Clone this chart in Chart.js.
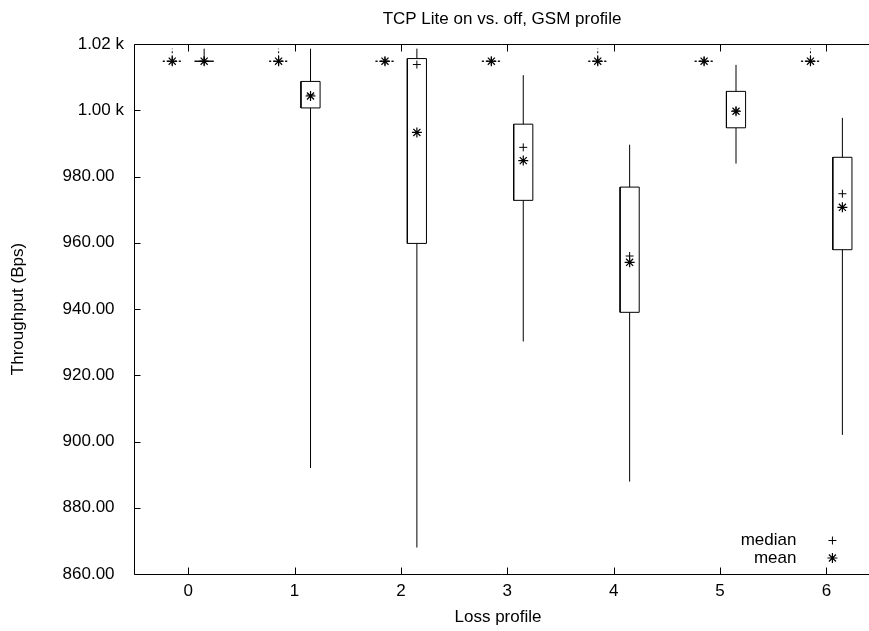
<!DOCTYPE html>
<html>
<head>
<meta charset="utf-8">
<script src="https://cdn.jsdelivr.net/npm/chart.js@4.4.1/dist/chart.umd.min.js"></script>
<style>
  html, body { margin: 0; padding: 0; background: #fff; overflow: hidden; width: 869px; height: 631px; }
  #wrap { width: 869px; height: 631px; overflow: hidden; }
  canvas { display: block; }
</style>
</head>
<body>
<div id="wrap"><canvas id="c" width="869" height="631" style="width:869px;height:631px"></canvas></div>
<script>
// ---- data ----
const categories = [0, 1, 2, 3, 4, 5, 6];
const xTickLabels = ['0', '1', '2', '3', '4', '5', '6'];
const yTickValues = [860, 880, 900, 920, 940, 960, 980, 1000, 1020];
const yTickLabels = ['860.00  ', '880.00  ', '900.00  ', '920.00  ', '940.00  ', '960.00  ', '980.00  ', '1.00 k', '1.02 k'];

// TCP Lite off (left of each category)
const offMin    = [1014.8, 1014.8, 1014.8, 1014.8, 1014.8, 1014.8, 1014.8];
const offQ1     = [1014.8, 1014.8, 1014.8, 1014.8, 1014.8, 1014.8, 1014.8];
const offMedian = [1014.8, 1014.8, 1014.8, 1014.8, 1014.8, 1014.8, 1014.8];
const offQ3     = [1014.8, 1014.8, 1014.8, 1014.8, 1014.8, 1014.8, 1014.8];
const offMax    = [1018.6, 1018.6, 1014.8, 1014.8, 1018.6, 1014.8, 1018.6];
const offMean   = [1014.8, 1014.8, 1014.8, 1014.8, 1014.8, 1014.8, 1014.8];

// TCP Lite on (right of each category)
const onMin    = [1014.8, 892.0, 868.0, 930.2, 887.9, 983.9, 902.0];
const onQ1     = [1014.8, 1000.7, 959.8, 972.8, 939.0, 994.7, 957.9];
const onMedian = [1014.8, 1004.6, 1013.8, 988.8, 956.0, 999.8, 974.8];
const onQ3     = [1014.8, 1008.7, 1015.6, 995.8, 976.8, 1005.7, 985.8];
const onMax    = [1018.6, 1018.6, 1018.6, 1010.6, 989.6, 1013.7, 997.7];
const onMean   = [1014.8, 1004.3, 993.3, 984.8, 954.1, 999.7, 970.7];

// ---- presentation constants ----
const OFF_SHIFT = -0.15, ON_SHIFT = 0.15, BOX_HALF = 0.09;
const FONT = "'Liberation Sans', Arial, Helvetica, sans-serif";

function boxOutline(q1, q3, shift) {
  const pts = [];
  categories.forEach((c, i) => {
    const x = c + shift;
    pts.push({x: x - BOX_HALF, y: q1[i]}, {x: x + BOX_HALF, y: q1[i]},
             {x: x + BOX_HALF, y: q3[i]}, {x: x - BOX_HALF, y: q3[i]},
             {x: x - BOX_HALF, y: q1[i]}, {x: x, y: null});
  });
  return pts;
}
function whiskers(mn, q1, q3, mx, shift) {
  const pts = [];
  categories.forEach((c, i) => {
    const x = c + shift;
    pts.push({x: x, y: mn[i]}, {x: x, y: q1[i]}, {x: x, y: null},
             {x: x, y: q3[i]}, {x: x, y: mx[i]}, {x: x, y: null});
  });
  return pts;
}
function marks(vals, shift) {
  return categories.map((c, i) => ({x: c + shift, y: vals[i]}));
}

const lineBase = {type: 'line', borderColor: '#000', borderWidth: 1, pointRadius: 0,
                  tension: 0, spanGaps: false, fill: false};

const datasets = [
  Object.assign({}, lineBase, {label: 'off whiskers', data: whiskers(offMin, offQ1, offQ3, offMax, OFF_SHIFT), borderDash: [2, 2], order: 5}),
  Object.assign({}, lineBase, {label: 'off box', data: boxOutline(offQ1, offQ3, OFF_SHIFT), borderDash: [2, 2], order: 4}),
  Object.assign({}, lineBase, {label: 'on whiskers', data: whiskers(onMin, onQ1, onQ3, onMax, ON_SHIFT), order: 5}),
  Object.assign({}, lineBase, {label: 'on box', data: boxOutline(onQ1, onQ3, ON_SHIFT), order: 4}),
  {type: 'scatter', label: 'median', data: marks(offMedian, OFF_SHIFT).concat(marks(onMedian, ON_SHIFT)),
   pointStyle: 'cross', pointRadius: 4, pointBorderWidth: 1, borderColor: '#000', backgroundColor: '#000', order: 2},
  {type: 'scatter', label: 'mean', data: marks(offMean, OFF_SHIFT).concat(marks(onMean, ON_SHIFT)),
   pointStyle: 'star', pointRadius: 5, pointBorderWidth: 1.2, borderColor: '#000', backgroundColor: '#000', order: 1}
];

const framePlugin = {
  id: 'frame',
  beforeDatasetsDraw(chart) {
    const {ctx, chartArea: a, scales: {x, y}} = chart;
    ctx.save();
    ctx.strokeStyle = '#000';
    ctx.lineWidth = 1;
    const L = Math.round(a.left) - 0.5, B = Math.round(a.bottom) + 0.5, T = Math.round(a.top) + 0.5, R = chart.width;
    ctx.beginPath();
    ctx.moveTo(L, T); ctx.lineTo(R, T);
    ctx.moveTo(L, T); ctx.lineTo(L, B);
    ctx.moveTo(L, B); ctx.lineTo(R, B);
    x.ticks.forEach(t => {
      const px = Math.round(x.getPixelForValue(t.value)) + 0.5;
      ctx.moveTo(px, B); ctx.lineTo(px, B - 7);
      ctx.moveTo(px, T); ctx.lineTo(px, T + 7);
    });
    y.ticks.forEach(t => {
      const py = Math.round(y.getPixelForValue(t.value)) + 0.5;
      ctx.moveTo(L, py); ctx.lineTo(L + 6, py);
    });
    ctx.stroke();
    ctx.restore();
  },
  afterDraw(chart) {
    const {ctx, chartArea: a} = chart;
    ctx.save();
    ctx.fillStyle = '#000';
    ctx.font = '17px ' + FONT;
    const xs = chart.scales.x;
    // title
    ctx.textAlign = 'center';
    ctx.textBaseline = 'alphabetic';
    ctx.fillText('TCP Lite on vs. off, GSM profile', (a.left + chart.width) / 2, 24);
    // key
    ctx.textAlign = 'right';
    ctx.textBaseline = 'middle';
    const ky1 = a.bottom - 33.5, ky2 = a.bottom - 16;
    const kx = xs.getPixelForValue(6) + 6;
    ctx.fillText('median', kx - 36, ky1);
    ctx.fillText('mean', kx - 36, ky2);
    ctx.strokeStyle = '#000';
    Chart.helpers.drawPoint(ctx, {pointStyle: 'cross', radius: 4, borderWidth: 1}, kx, ky1);
    ctx.lineWidth = 1.2;
    Chart.helpers.drawPoint(ctx, {pointStyle: 'star', radius: 5, borderWidth: 1.2}, kx, ky2);
    ctx.restore();
  }
};

Chart.defaults.font.family = FONT;
Chart.defaults.font.size = 17;
Chart.defaults.color = '#000';

new Chart(document.getElementById('c'), {
  type: 'line',
  data: {datasets: datasets},
  options: {
    responsive: false,
    animation: false,
    devicePixelRatio: 1,
    layout: {padding: {top: 44, left: 0, right: 8, bottom: 0}},
    plugins: {legend: {display: false}, tooltip: {enabled: false}, title: {display: false}},
    scales: {
      x: {
        type: 'linear', position: 'bottom', min: -0.5, max: 6.325,
        grid: {display: false, drawTicks: false},
        border: {display: false},
        afterBuildTicks: (s) => { s.ticks = categories.map(v => ({value: v})); },
        ticks: {autoSkip: false, maxRotation: 0, padding: 7,
                callback: (v) => { const i = categories.indexOf(v); return i >= 0 ? xTickLabels[i] : ''; }},
        title: {display: true, text: 'Loss profile', padding: {top: 0, bottom: 3}},
        afterFit: (s) => { s.height = 57; }
      },
      y: {
        type: 'linear', position: 'left', min: 860, max: 1020,
        grid: {display: false, drawTicks: false},
        border: {display: false},
        afterBuildTicks: (s) => { s.ticks = yTickValues.map(v => ({value: v})); },
        ticks: {autoSkip: false, padding: 11,
                callback: (v) => { const i = yTickValues.indexOf(v); return i >= 0 ? yTickLabels[i] : ''; }},
        title: {display: true, text: 'Throughput (Bps)', padding: {top: 8, bottom: 0}},
        afterFit: (s) => { s.width = 135; }
      }
    }
  },
  plugins: [framePlugin]
});
</script>
</body>
</html>
